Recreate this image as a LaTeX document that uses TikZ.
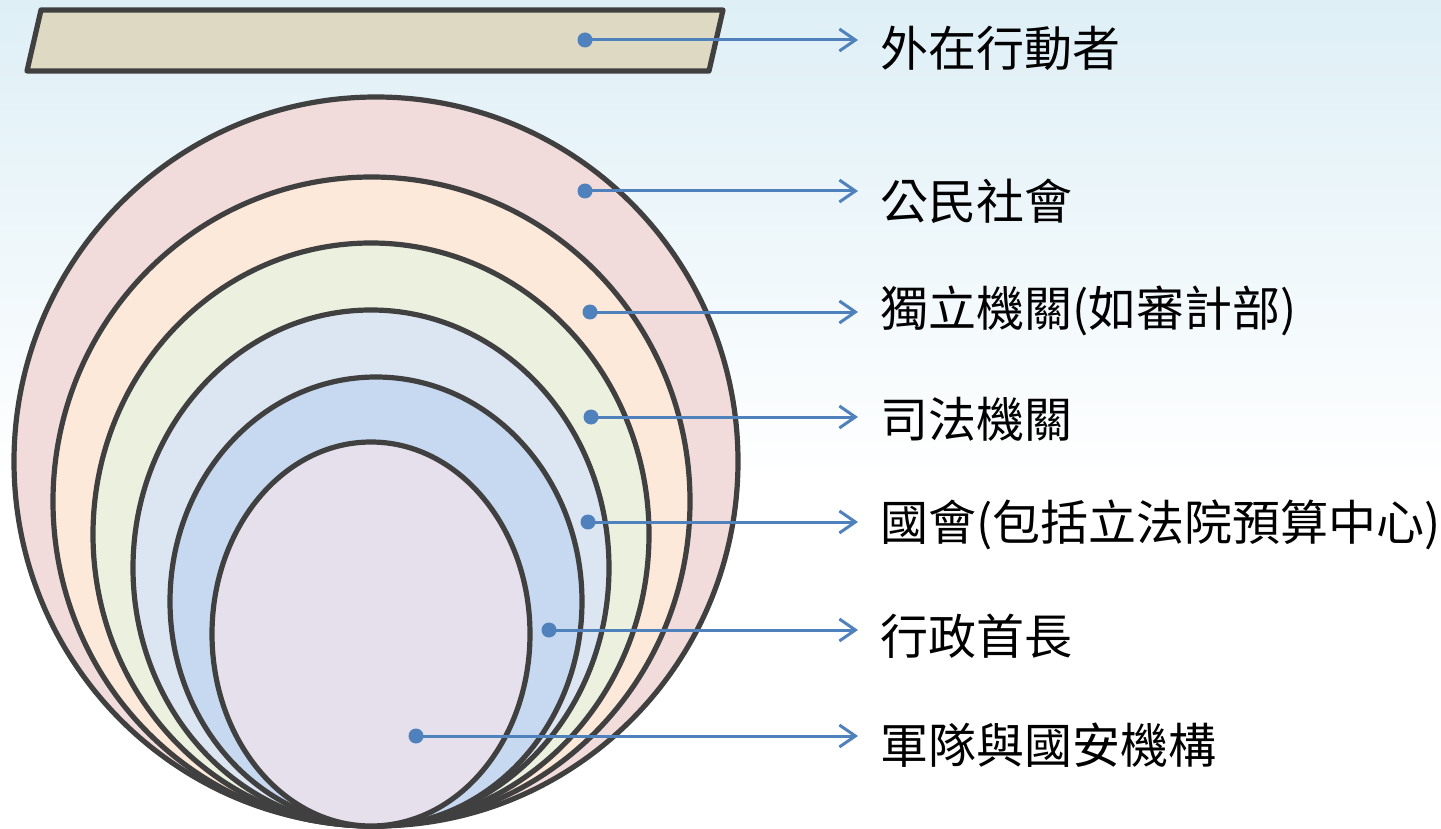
\documentclass[tikz,border=0pt]{standalone}
\usepackage{fontspec}
\newfontfamily\cjk{Noto Sans CJK TC}
\usetikzlibrary{arrows.meta,shapes.geometric}
\definecolor{bgtop}{RGB}{222,239,246}
\definecolor{edge}{RGB}{64,64,64}
\definecolor{conncol}{RGB}{79,129,189}
\definecolor{tan}{RGB}{221,217,195}
\definecolor{cA}{RGB}{242,220,219}
\definecolor{cB}{RGB}{253,233,217}
\definecolor{cC}{RGB}{235,241,222}
\definecolor{cD}{RGB}{220,230,242}
\definecolor{cE}{RGB}{198,217,241}
\definecolor{cF}{RGB}{230,224,236}
\tikzset{
  ring/.style={ellipse, draw=edge, line width=5.2pt, inner sep=0pt, outer sep=0pt},
  dot/.style={circle, fill=conncol, inner sep=0pt, minimum size=15pt},
  conn/.style={draw=conncol, line width=3pt, -{Straight Barb[length=16pt,width=22pt,line width=3pt]}},
  lab/.style={anchor=west, font=\cjk\fontsize{48}{52}\selectfont, inner xsep=22pt, inner ysep=0pt, text=black}
}
\begin{document}
\begin{tikzpicture}[x=1pt,y=-1pt]
\useasboundingbox (0,0) rectangle (1441,829);
\shade[top color=bgtop, bottom color=white] (0,0) rectangle (1441,480);
\fill[white] (0,479) rectangle (1441,829);
% top bar
\draw[fill=tan, draw=edge, line width=5.2pt, line join=round] (41,10) -- (723,10) -- (709,71) -- (27,71) -- cycle;
% nested ellipses
\node[ring, fill=cA, minimum width=724pt, minimum height=729pt] (e1) at (376,461.5) {};
\node[ring, fill=cB, minimum width=637pt, minimum height=649pt] (e2) at (371.5,501.5) {};
\node[ring, fill=cC, minimum width=556pt, minimum height=583pt] (e3) at (371,534.5) {};
\node[ring, fill=cD, minimum width=476pt, minimum height=516pt] (e4) at (371,568) {};
\node[ring, fill=cE, minimum width=412pt, minimum height=449pt] (e5) at (376,601.5) {};
\node[ring, fill=cF, minimum width=318pt, minimum height=384pt] (e6) at (371,634) {};
% dots
\node[dot] (d1) at (585,40) {};
\node[dot] (d2) at (585,191) {};
\node[dot] (d3) at (590,312) {};
\node[dot] (d4) at (591,417) {};
\node[dot] (d5) at (588,522) {};
\node[dot] (d6) at (549,630) {};
\node[dot] (d7) at (416,736) {};
% labels
\node[lab] (l1) at (858,48) {外在行動者};
\node[lab] (l2) at (858,201) {公民社會};
\node[lab] (l3) at (858,311) {獨立機關(如審計部)};
\node[lab] (l4) at (858,419) {司法機關};
\node[lab] (l5) at (858,525) {國會(包括立法院預算中心)};
\node[lab] (l6) at (858,636) {行政首長};
\node[lab] (l7) at (858,745) {軍隊與國安機構};
% connectors
\foreach \i in {1,...,7}{
  \draw[conn] (d\i.center) -- (d\i.center -| l\i.west);
}
\end{tikzpicture}
\end{document}
